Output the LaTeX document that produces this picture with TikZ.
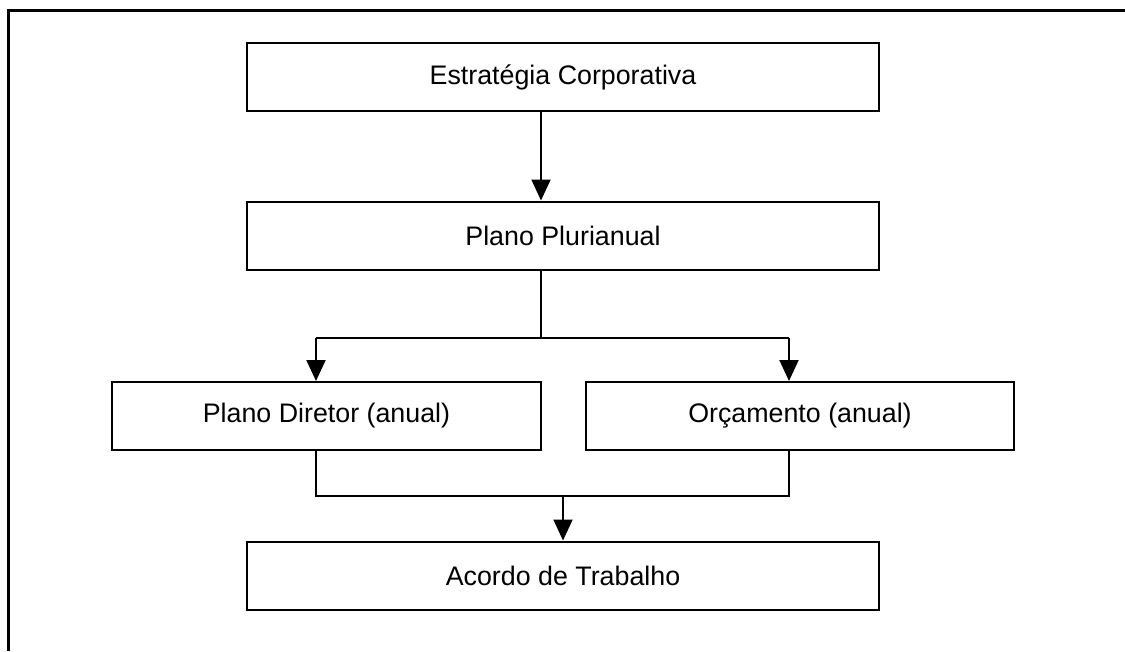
\documentclass[tikz,border=0pt]{standalone}
\usepackage{fontspec}
\setmainfont{Liberation Sans}
\usepackage{tikz}
\usetikzlibrary{calc,arrows.meta}

\tikzset{
  caixa/.style={draw, line width=2pt, minimum height=68pt, inner sep=0pt,
    font=\fontsize{26.8}{32}\selectfont},
  seta/.style={-{Triangle[width=19pt,length=21pt]}, line width=2pt},
  linha/.style={line width=2pt}
}

\begin{document}
\begin{tikzpicture}[x=1pt,y=-1pt]
\useasboundingbox (0,0) rectangle (1125,651);
% moldura
\draw[line width=3pt] (8,651) -- (8,10) -- (1125,10);
% caixas
\node[caixa, minimum width=632pt] (estr) at (563,77) {Estratégia Corporativa};
\node[caixa, minimum width=632pt] (ppa) at (563,235.5) {Plano Plurianual};
\node[caixa, minimum width=429pt] (pdir) at (326.5,416) {Plano Diretor (anual)};
\node[caixa, minimum width=428pt] (orc) at (800,416) {Orçamento (anual)};
\node[caixa, minimum width=632pt] (acordo) at (563,575.5) {Acordo de Trabalho};
% ligacoes
\coordinate (e1) at ($(estr.south)+(-22,0)$);
\coordinate (p1) at ($(ppa.north)+(-22,0)$);
\draw[seta] (e1) -- (p1);
\coordinate (p2) at ($(ppa.south)+(-22,0)$);
\coordinate (d1) at ($(pdir.north)+(-10.5,0)$);
\coordinate (o1) at ($(orc.north)+(-11,0)$);
\draw[linha] (p2) -- ($(p2)+(0,67)$) coordinate (ramo);
\draw[linha] (ramo -| d1) -- (ramo -| o1);
\draw[seta] (ramo -| d1) -- (d1);
\draw[seta] (ramo -| o1) -- (o1);
\coordinate (d2) at ($(pdir.south)+(-10.5,0)$);
\coordinate (o2) at ($(orc.south)+(-11,0)$);
\draw[linha] (d2) -- ($(d2)+(0,45)$) coordinate (junta) -- (junta -| o2) -- (o2);
\draw[seta] (junta -| acordo.north) -- (acordo.north);
\end{tikzpicture}
\end{document}
